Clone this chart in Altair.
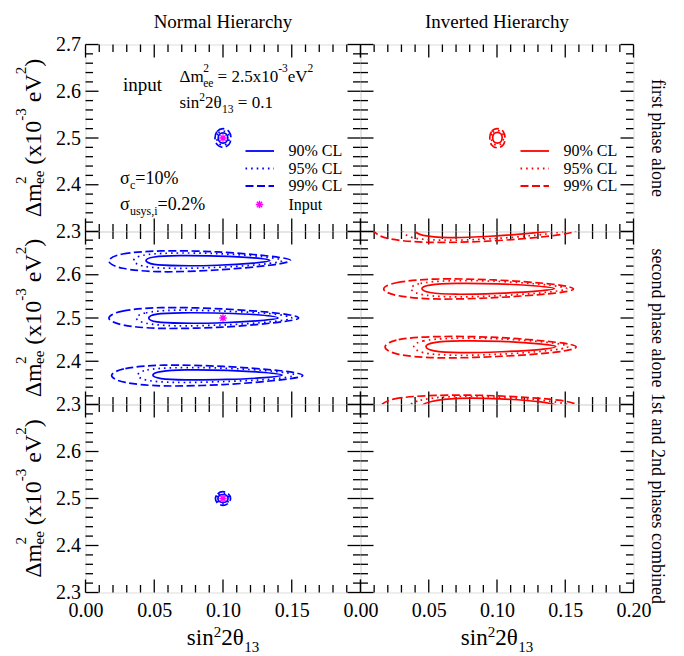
import altair as alt
import pandas as pd

FONT = "Liberation Serif"
BLUE, RED, MAGENTA = "#0000ff", "#ff0000", "#ff00ff"

COL_TITLES = ["Normal Hierarchy", "Inverted Hierarchy"]
ROW_TITLES = ["first phase alone", "second phase alone", "1st and 2nd phases combined"]
LEVELS = ["90% CL", "95% CL", "99% CL"]
DASHES = {"90% CL": None, "95% CL": [1.6, 4.0], "99% CL": [8, 3.5]}

X_DOMAIN = [0.0, 0.2]
Y_DOMAIN = [2.3, 2.7]
X_MAJOR = [0.00, 0.05, 0.10, 0.15, 0.20]
X_MINOR = [0.01, 0.02, 0.03, 0.04, 0.06, 0.07, 0.08, 0.09, 0.11, 0.12, 0.13, 0.14, 0.16, 0.17, 0.18, 0.19]
Y_MAJOR = [2.3, 2.4, 2.5, 2.6, 2.7]
Y_MINOR = [2.32, 2.34, 2.36, 2.38, 2.42, 2.44, 2.46, 2.48, 2.52, 2.54, 2.56, 2.58, 2.62, 2.64, 2.66, 2.68]
X_LABELS_LEFT = [0.00, 0.05, 0.10, 0.15]
X_LABELS_RIGHT = [0.00, 0.05, 0.10, 0.15, 0.20]
Y_LABELS_TOP = [2.3, 2.4, 2.5, 2.6, 2.7]
Y_LABELS_LOWER = [2.3, 2.4, 2.5, 2.6]

INPUT_X = [0.1]
INPUT_Y = [2.5]

# ---- contours: (sin^2 2theta13, dm2_ee) points ----
# Normal hierarchy, first phase alone
NH1_90 = [[(0.0965, 2.500), (0.0975, 2.508), (0.1000, 2.511), (0.1025, 2.508), (0.1035, 2.500), (0.1025, 2.492), (0.1000, 2.489), (0.0975, 2.492)]]
NH1_95 = [[(0.0955, 2.500), (0.0967, 2.511), (0.1000, 2.515), (0.1033, 2.511), (0.1045, 2.500), (0.1033, 2.489), (0.1000, 2.485), (0.0967, 2.489)]]
NH1_99 = [[(0.0942, 2.500), (0.0957, 2.514), (0.1000, 2.520), (0.1043, 2.514), (0.1058, 2.500), (0.1043, 2.486), (0.1000, 2.480), (0.0957, 2.486)]]
# Inverted hierarchy, first phase alone
IH1_90 = [[(0.0968, 2.501), (0.0978, 2.509), (0.1003, 2.512), (0.1028, 2.509), (0.1038, 2.501), (0.1028, 2.492), (0.1003, 2.489), (0.0978, 2.492)]]
IH1_95 = [[(0.0958, 2.501), (0.0970, 2.512), (0.1003, 2.516), (0.1036, 2.512), (0.1048, 2.501), (0.1036, 2.489), (0.1003, 2.485), (0.0970, 2.489)]]
IH1_99 = [[(0.0947, 2.500), (0.0961, 2.514), (0.1003, 2.520), (0.1045, 2.514), (0.1059, 2.500), (0.1045, 2.485), (0.1003, 2.479), (0.0961, 2.485)]]
# Normal hierarchy, second phase alone (three islands)
NH2_90 = [
    [(0.044, 2.633), (0.050, 2.641), (0.068, 2.644), (0.096, 2.643), (0.122, 2.639), (0.134, 2.633), (0.122, 2.627), (0.096, 2.622), (0.068, 2.621), (0.050, 2.624)],
    [(0.046, 2.500), (0.052, 2.509), (0.070, 2.512), (0.100, 2.511), (0.127, 2.507), (0.140, 2.500), (0.127, 2.494), (0.100, 2.489), (0.070, 2.488), (0.052, 2.491)],
    [(0.049, 2.368), (0.055, 2.376), (0.073, 2.380), (0.103, 2.379), (0.130, 2.374), (0.143, 2.368), (0.130, 2.362), (0.103, 2.358), (0.073, 2.357), (0.055, 2.360)],
]
NH2_95 = [
    [(0.035, 2.633), (0.042, 2.645), (0.062, 2.650), (0.095, 2.649), (0.128, 2.642), (0.143, 2.633), (0.128, 2.624), (0.095, 2.617), (0.062, 2.615), (0.042, 2.620)],
    [(0.037, 2.500), (0.044, 2.512), (0.065, 2.518), (0.100, 2.516), (0.134, 2.510), (0.150, 2.500), (0.134, 2.491), (0.100, 2.484), (0.065, 2.482), (0.044, 2.488)],
    [(0.038, 2.368), (0.045, 2.380), (0.066, 2.385), (0.100, 2.384), (0.136, 2.377), (0.152, 2.368), (0.136, 2.359), (0.100, 2.353), (0.066, 2.351), (0.045, 2.356)],
]
NH2_99 = [
    [(0.017, 2.632), (0.027, 2.648), (0.055, 2.655), (0.095, 2.653), (0.134, 2.643), (0.149, 2.633), (0.134, 2.622), (0.095, 2.611), (0.055, 2.607), (0.027, 2.615)],
    [(0.017, 2.500), (0.027, 2.516), (0.055, 2.524), (0.100, 2.521), (0.140, 2.511), (0.155, 2.500), (0.140, 2.490), (0.100, 2.479), (0.055, 2.476), (0.027, 2.484)],
    [(0.019, 2.367), (0.029, 2.383), (0.057, 2.391), (0.100, 2.388), (0.142, 2.378), (0.158, 2.367), (0.142, 2.357), (0.100, 2.346), (0.057, 2.343), (0.029, 2.351)],
]
# Inverted hierarchy, second phase alone (four islands, two cut by the frame)
IH2_90 = [
    [(0.040, 2.703), (0.046, 2.712), (0.065, 2.720), (0.095, 2.719), (0.127, 2.714), (0.140, 2.703), (0.127, 2.697), (0.095, 2.689), (0.065, 2.686), (0.046, 2.691)],
    [(0.045, 2.568), (0.051, 2.576), (0.070, 2.580), (0.100, 2.579), (0.129, 2.574), (0.142, 2.568), (0.129, 2.562), (0.100, 2.557), (0.070, 2.555), (0.051, 2.559)],
    [(0.048, 2.434), (0.054, 2.443), (0.073, 2.447), (0.103, 2.446), (0.131, 2.440), (0.143, 2.434), (0.131, 2.427), (0.103, 2.422), (0.073, 2.420), (0.054, 2.424)],
    [(0.045, 2.295), (0.052, 2.307), (0.072, 2.314), (0.102, 2.313), (0.132, 2.306), (0.145, 2.295), (0.132, 2.286), (0.102, 2.278), (0.072, 2.276), (0.052, 2.282)],
]
IH2_95 = [
    [(0.031, 2.703), (0.038, 2.716), (0.060, 2.726), (0.095, 2.724), (0.133, 2.716), (0.150, 2.703), (0.133, 2.693), (0.095, 2.683), (0.060, 2.680), (0.038, 2.686)],
    [(0.037, 2.568), (0.044, 2.580), (0.065, 2.586), (0.098, 2.585), (0.135, 2.577), (0.151, 2.568), (0.135, 2.559), (0.098, 2.551), (0.065, 2.549), (0.044, 2.555)],
    [(0.039, 2.434), (0.046, 2.447), (0.067, 2.453), (0.100, 2.452), (0.136, 2.444), (0.152, 2.434), (0.136, 2.424), (0.100, 2.416), (0.067, 2.414), (0.046, 2.420)],
    [(0.036, 2.295), (0.044, 2.310), (0.066, 2.318), (0.100, 2.317), (0.138, 2.308), (0.154, 2.295), (0.138, 2.283), (0.100, 2.274), (0.066, 2.272), (0.044, 2.280)],
]
IH2_99 = [
    [(0.010, 2.703), (0.020, 2.720), (0.050, 2.731), (0.095, 2.729), (0.140, 2.718), (0.158, 2.703), (0.140, 2.690), (0.095, 2.678), (0.050, 2.675), (0.020, 2.684)],
    [(0.017, 2.567), (0.027, 2.582), (0.055, 2.590), (0.098, 2.588), (0.141, 2.578), (0.156, 2.567), (0.141, 2.557), (0.098, 2.547), (0.055, 2.544), (0.027, 2.552)],
    [(0.018, 2.433), (0.028, 2.450), (0.056, 2.457), (0.100, 2.455), (0.143, 2.444), (0.158, 2.433), (0.143, 2.421), (0.100, 2.411), (0.056, 2.408), (0.028, 2.416)],
    [(0.015, 2.295), (0.025, 2.313), (0.055, 2.321), (0.100, 2.320), (0.145, 2.310), (0.160, 2.295), (0.145, 2.282), (0.100, 2.270), (0.055, 2.268), (0.025, 2.277)],
]
# Normal hierarchy, both phases combined
NH3_90 = [[(0.0963, 2.500), (0.0973, 2.506), (0.1000, 2.5085), (0.1027, 2.506), (0.1037, 2.500), (0.1027, 2.494), (0.1000, 2.4915), (0.0973, 2.494)]]
NH3_95 = [[(0.0954, 2.500), (0.0967, 2.508), (0.1000, 2.5115), (0.1033, 2.508), (0.1046, 2.500), (0.1033, 2.492), (0.1000, 2.4885), (0.0967, 2.492)]]
NH3_99 = [[(0.0945, 2.500), (0.0961, 2.510), (0.1000, 2.5145), (0.1039, 2.510), (0.1055, 2.500), (0.1039, 2.490), (0.1000, 2.4855), (0.0961, 2.490)]]
# Inverted hierarchy, both phases combined: nothing drawn
IH3_90, IH3_95, IH3_99 = [], [], []

WIDTHS = [275, 273]
HEIGHTS = [187, 173, 188]

STAR = "M0,-1L0,1M-1,0L1,0M-0.71,-0.71L0.71,0.71M-0.71,0.71L0.71,-0.71"
ONE = pd.DataFrame({"d": [0]})

CW = {' ': 0.25, '%': 0.833, '(': 0.333, ')': 0.333, ',': 0.25, '-': 0.333, '.': 0.25, '=': 0.564,
      'C': 0.667, 'L': 0.611, 'V': 0.722, 'I': 0.333, 'a': 0.444, 'c': 0.444, 'e': 0.444, 'i': 0.278,
      'm': 0.778, 'n': 0.5, 'p': 0.5, 's': 0.389, 't': 0.278, 'u': 0.5, 'x': 0.5, 'y': 0.5,
      'Δ': 0.612, 'θ': 0.5, 'σ': 0.55}


def tw(s, size):
    return sum(CW.get(c, 0.5) for c in s) * size


def rich(pieces, x, y, F, f, sup, sub, angle=0, center=False, color="black"):
    items, adv, pending = [], 0.0, 0.0
    for text, kind in pieces:
        size = F if kind == "n" else f
        dy = {"n": 0, "sup": sup, "sup*": sup, "sub": sub}[kind]
        items.append((text, size, adv, dy))
        w = tw(text, size)
        if kind == "sup*":
            pending = w
        else:
            adv += max(w, pending)
            pending = 0.0
    off = -adv / 2 if center else 0.0
    out = []
    for text, size, a, dy in items:
        shown = text.lstrip(" ")
        lead = tw(text[: len(text) - len(shown)], size)
        out.append(alt.Chart(ONE).mark_text(
            text=shown, font=FONT, fontSize=size, align="left", baseline="alphabetic",
            angle=angle, dx=a + off + lead, dy=dy, color=color
        ).encode(x=alt.value(x), y=alt.value(y)))
    return out


def contour_df(groups):
    rows = []
    for cid, pts in enumerate(groups):
        for i, (px, py) in enumerate(pts):
            rows.append({"cid": cid, "i": i, "x": px, "y": py})
    return pd.DataFrame(rows)


YTITLE = [("Δm", "n"), ("2", "sup*"), ("ee", "sub"), (" (x10", "n"), ("-3", "sup"), (" eV", "n"), ("2", "sup"), (")", "n")]
XTITLE = [("sin", "n"), ("2", "sup"), ("2θ", "n"), ("13", "sub")]
NOTE_DM = [("Δm", "n"), ("2", "sup*"), ("ee", "sub"), (" = 2.5x10", "n"), ("-3", "sup"), ("eV", "n"), ("2", "sup")]
NOTE_S = [("sin", "n"), ("2", "sup"), ("2θ", "n"), ("13", "sub"), (" = 0.1", "n")]
NOTE_SC = [("σ", "n"), ("c", "sub"), ("=10%", "n")]
NOTE_SU = [("σ", "n"), ("usys,i", "sub"), ("=0.2%", "n")]
LEGEND_Y = [106.5, 124.0, 141.5]


def panel(col, row, contours, color, star, xlabels, ylabels, legend, notes):
    W, H = WIDTHS[col], HEIGHTS[row]
    xs = alt.Scale(domain=X_DOMAIN, nice=False, zero=False)
    ys = alt.Scale(domain=Y_DOMAIN, nice=False, zero=False)
    common = dict(ticks=False, tickSize=0, domain=False, grid=False, title=None, labelFont=FONT,
                  labelFontSize=20, labelColor="black", labelFlush=False, labelOverlap=False)
    xa = alt.Axis(values=xlabels, format=".2f", labelPadding=8, **common) if xlabels else None
    ya = alt.Axis(values=ylabels, format=".1f", labelPadding=5, **common) if ylabels else None
    X = lambda fld: alt.X(f"{fld}:Q", scale=xs, axis=xa)
    Y = lambda fld: alt.Y(f"{fld}:Q", scale=ys, axis=ya)
    layers = []
    # ticks (inward, on all four sides)
    for vals, ln in ((X_MAJOR, 13), (X_MINOR, 7.5)):
        df = pd.DataFrame({"v": vals})
        for a, b in ((H, H - ln), (0, ln)):
            layers.append(alt.Chart(df).mark_rule(color="black", strokeWidth=1.3).encode(
                x=X("v"), y=alt.value(a), y2=alt.value(b)))
    for vals, ln in ((Y_MAJOR, 13), (Y_MINOR, 7.5)):
        df = pd.DataFrame({"v": vals})
        for a, b in ((0, ln), (W, W - ln)):
            layers.append(alt.Chart(df).mark_rule(color="black", strokeWidth=1.3).encode(
                y=Y("v"), x=alt.value(a), x2=alt.value(b)))
    # contours
    for lev, groups in zip(LEVELS, contours):
        if not groups:
            continue
        kw = dict(color=color, strokeWidth=1.7, interpolate="cardinal-closed", clip=True)
        if DASHES[lev]:
            kw["strokeDash"] = DASHES[lev]
        layers.append(alt.Chart(contour_df(groups)).mark_line(**kw).encode(
            x=X("x"), y=Y("y"), detail="cid:N", order="i:Q"))
    if star:
        layers.append(alt.Chart(pd.DataFrame({"x": INPUT_X, "y": INPUT_Y})).mark_point(
            shape=STAR, size=55, filled=False, strokeWidth=1.4, color=MAGENTA, opacity=1
        ).encode(x=X("x"), y=Y("y")))
    # legend
    if legend:
        for lev, ly in zip(LEVELS, LEGEND_Y):
            kw = dict(color=color, strokeWidth=1.8)
            if DASHES[lev]:
                kw["strokeDash"] = DASHES[lev]
            layers.append(alt.Chart(ONE).mark_rule(**kw).encode(
                x=alt.value(160), x2=alt.value(188.5), y=alt.value(ly)))
            layers.append(alt.Chart(ONE).mark_text(
                text=lev, font=FONT, fontSize=16, align="left", baseline="middle", color="black"
            ).encode(x=alt.value(203), y=alt.value(ly)))
        if star:
            layers.append(alt.Chart(ONE).mark_point(
                shape=STAR, size=55, filled=False, strokeWidth=1.4, color=MAGENTA, opacity=1
            ).encode(x=alt.value(174), y=alt.value(160)))
            layers.append(alt.Chart(ONE).mark_text(
                text="Input", font=FONT, fontSize=16, align="left", baseline="middle", color="black"
            ).encode(x=alt.value(203), y=alt.value(160)))
    if notes:
        layers.append(alt.Chart(ONE).mark_text(
            text="input", font=FONT, fontSize=19, align="left", baseline="alphabetic", color="black"
        ).encode(x=alt.value(37.5), y=alt.value(46)))
        layers += rich(NOTE_DM, 94, 37.5, 17, 11.5, -10, 5)
        layers += rich(NOTE_S, 94, 63.5, 17, 11.5, -7, 5)
        layers += rich(NOTE_SC, 34.5, 139, 18, 12, 0, 5)
        layers += rich(NOTE_SU, 34.5, 165.5, 18, 12, 0, 5)
    # outer titles
    if row == 0:
        layers.append(alt.Chart(ONE).mark_text(
            text=COL_TITLES[col], font=FONT, fontSize=19, align="center", baseline="alphabetic", color="black"
        ).encode(x=alt.value(W / 2), y=alt.value(-17)))
    if col == 1:
        layers.append(alt.Chart(ONE).mark_text(
            text=ROW_TITLES[row], font=FONT, fontSize=18, align="center", baseline="alphabetic",
            angle=90, color="black"
        ).encode(x=alt.value(W + 18), y=alt.value(H / 2)))
    if col == 0:
        layers += rich(YTITLE, -45, H / 2, 24, 15, -15, 3, angle=270, center=True)
    if row == 2:
        layers += rich(XTITLE, W / 2, H + 52.5, 23, 15, -8, 7, center=True)
    return alt.layer(*layers).properties(width=W, height=H)


panels = [
    panel(0, 0, [NH1_90, NH1_95, NH1_99], BLUE, True, None, Y_LABELS_TOP, True, True),
    panel(1, 0, [IH1_90, IH1_95, IH1_99], RED, False, None, None, True, False),
    panel(0, 1, [NH2_90, NH2_95, NH2_99], BLUE, True, None, Y_LABELS_LOWER, False, False),
    panel(1, 1, [IH2_90, IH2_95, IH2_99], RED, False, None, None, False, False),
    panel(0, 2, [NH3_90, NH3_95, NH3_99], BLUE, True, X_LABELS_LEFT, Y_LABELS_LOWER, False, False),
    panel(1, 2, [IH3_90, IH3_95, IH3_99], RED, False, X_LABELS_RIGHT, None, False, False),
]

chart = alt.concat(*panels, columns=2, spacing=0, bounds="flush", align="each").properties(
    padding={"left": 4.5, "top": 3.5, "right": 0, "bottom": 0}
).configure_view(stroke="black", strokeWidth=2).configure(background="white")

chart.save("out.html", embed_options={"renderer": "svg", "actions": False})
